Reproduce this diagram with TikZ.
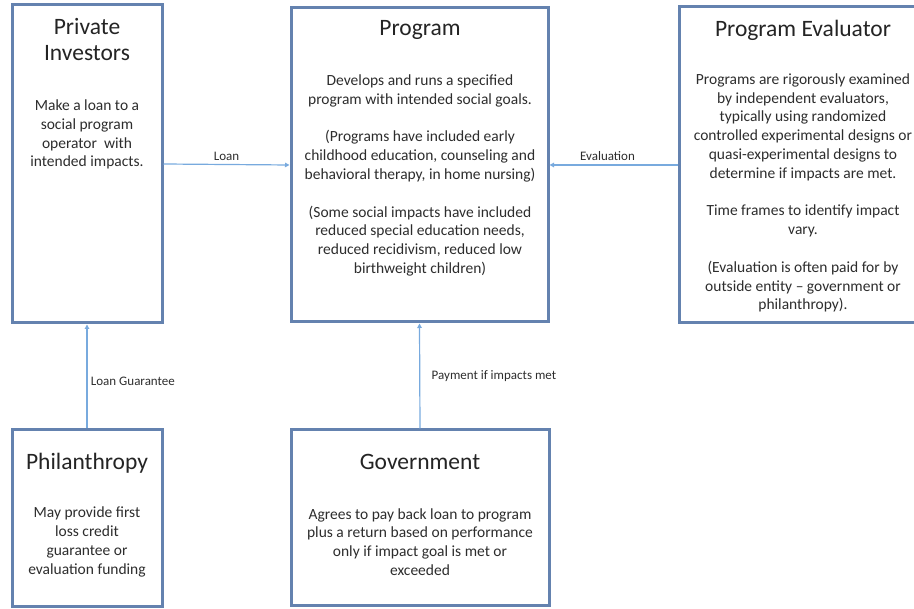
\documentclass[tikz,border=0pt]{standalone}
\usepackage{fontspec}
\setmainfont{Carlito}
\usetikzlibrary{arrows.meta}
\definecolor{boxline}{RGB}{100,130,175}
\definecolor{flow}{RGB}{120,170,222}
\definecolor{ink}{RGB}{45,45,45}
\begin{document}
\begin{tikzpicture}[x=1pt,y=-1pt,
  party/.style={draw=boxline, line width=3pt, inner sep=0pt, fill=white},
  title/.style={text=ink!80!black, align=center, inner sep=0pt,
    font=\fontsize{23.5}{26}\selectfont},
  body/.style={text=ink, align=center, inner sep=0pt,
    font=\fontsize{15.5}{18.8}\selectfont},
  flowline/.style={draw=flow, line width=1.2pt, -{Triangle[length=4.5pt,width=4.5pt]}},
  lbl/.style={text=ink, font=\fontsize{13}{15}\selectfont}]
\useasboundingbox (0,0) rectangle (914,609);

% the five parties
\node[party, minimum width=150pt, minimum height=318pt] (pi)   at (87,164)    {};
\node[party, minimum width=257pt, minimum height=314pt] (prog) at (419.5,165) {};
\node[party, minimum width=248pt, minimum height=316pt] (eval) at (803,165)   {};
\node[party, minimum width=150pt, minimum height=177pt] (phil) at (87,518.5)  {};
\node[party, minimum width=258pt, minimum height=176pt] (gov)  at (420,518)   {};

% titles
\node[title] (pit) at (87,40)  {Private\\Investors};
\node[title] (prt) at (420,30) {Program};
\node[title] (evt) at (803,30) {Program Evaluator};
\node[title] (pht) at (87,463) {Philanthropy};
\node[title] (got) at (420,462) {Government};

% descriptions
\node[body] (pib) at (87,134.5) {Make a loan to a\\social program\\operator\ \ with\\intended\ impacts.};
\node[body] (prb) at (420,175.5) {Develops and runs a specified\\program with intended social goals.\\[18.8pt]
  (Programs have included early\\childhood education, counseling and\\behavioral therapy, in home nursing)\\[18.8pt]
  (Some social impacts have included\\reduced special education needs,\\reduced recidivism, reduced low\\birthweight children)};
\node[body] (evb) at (803,193) {Programs are rigorously examined\\by independent\ evaluators,\\typically using randomized\\controlled experimental designs or\\quasi-experimental designs to\\determine if impacts are met.\\[18.8pt]
  Time frames to identify impact\\vary.\\[18.8pt]
  (Evaluation is often paid for by\\outside entity -- government\ or\\philanthropy).};
\node[body] (phb) at (87,542) {May provide first\\loss credit\\guarantee or\\evaluation funding};
\node[body] (gob) at (420,542) {Agrees to pay back loan to program\\plus a return based on\ performance\\only if impact\ goal is met or\\exceeded};

% flows between the parties
\draw[flowline] (pi.east) -- node[lbl, above] {Loan} (prog.west);
\draw[flowline] (eval.west) -- node[lbl, above, xshift=-6pt] {Evaluation} (prog.east);
\draw[flowline] (phil.north) -- node[lbl, right, pos=0.45] {Loan Guarantee} (pi.south);
\draw[flowline] (gov.north) -- node[lbl, right, pos=0.5, xshift=8pt] {Payment if impacts met} (prog.south);
\end{tikzpicture}
\end{document}
